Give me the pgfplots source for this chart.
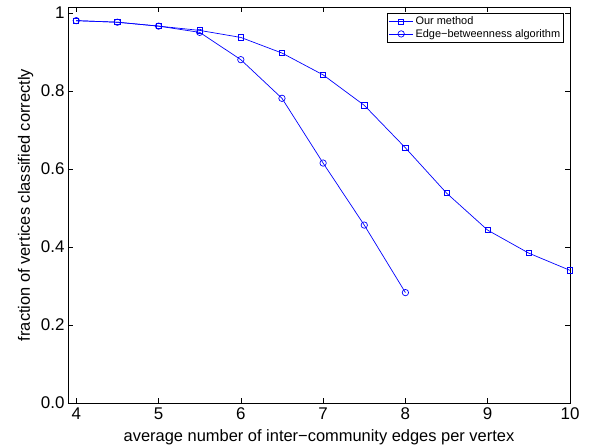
\documentclass[border=0pt]{standalone}
\usepackage{fontspec}
\setmainfont{Liberation Sans}
\usepackage{pgfplots}
\pgfplotsset{compat=1.18}
\begin{document}
\begin{tikzpicture}
\path[use as bounding box] (-68bp,-45bp) rectangle (523bp,403bp);
\begin{axis}[
  scale only axis,
  width=502bp, height=396bp,
  xmin=3.9, xmax=10, ymin=0, ymax=1.015,
  xtick={4,5,6,7,8,9,10},
  ytick={0,0.2,0.4,0.6,0.8,1},
  yticklabels={0.0,0.2,0.4,0.6,0.8,1},
  tick align=inside,
  major tick length=5bp,
  tick style={black, line width=0.5pt},
  axis line style={black, line width=0.8pt},
  /pgf/number format/assume math mode=true,
  ticklabel style={font=\fontsize{17}{19}\selectfont},
  label style={font=\fontsize{16.5}{19}\selectfont},
  xlabel={average number of inter−community edges per vertex},
  ylabel={fraction of vertices classified correctly},
  xlabel style={at={(axis description cs:0.5,-0.058)}, anchor=north},
  ylabel style={at={(axis description cs:-0.062,0.5)}, anchor=south},
  xticklabel style={yshift=-1bp},
  legend style={at={(1,1)}, anchor=north east, xshift=-6bp, yshift=-6bp,
    font=\fontsize{11}{12}\selectfont, draw=black, line width=0.6pt,
    inner sep=1.5bp, row sep=-1bp, cells={anchor=west}},
  legend cell align=left,
  legend image code/.code={
    \draw[mark repeat=2,mark phase=2,#1] plot coordinates {(0bp,0bp) (12bp,0bp) (24bp,0bp)};},
]
\addplot[blue, line width=0.7pt, mark=square, mark size=2.6bp, mark options={solid, line width=0.7pt}]
  coordinates {(4,0.980) (4.5,0.976) (5,0.966) (5.5,0.955) (6,0.937) (6.5,0.897) (7,0.841) (7.5,0.763) (8,0.654) (8.5,0.538) (9,0.443) (9.5,0.384) (10,0.340)};
\addlegendentry{Our method}
\addplot[blue, line width=0.7pt, mark=o, mark size=3.2bp, mark options={solid, line width=0.7pt}]
  coordinates {(4,0.980) (4.5,0.976) (5,0.966) (5.5,0.950) (6,0.880) (6.5,0.781) (7,0.615) (7.5,0.456) (8,0.283)};
\addlegendentry{Edge−betweenness algorithm}
\end{axis}
\end{tikzpicture}
\end{document}
